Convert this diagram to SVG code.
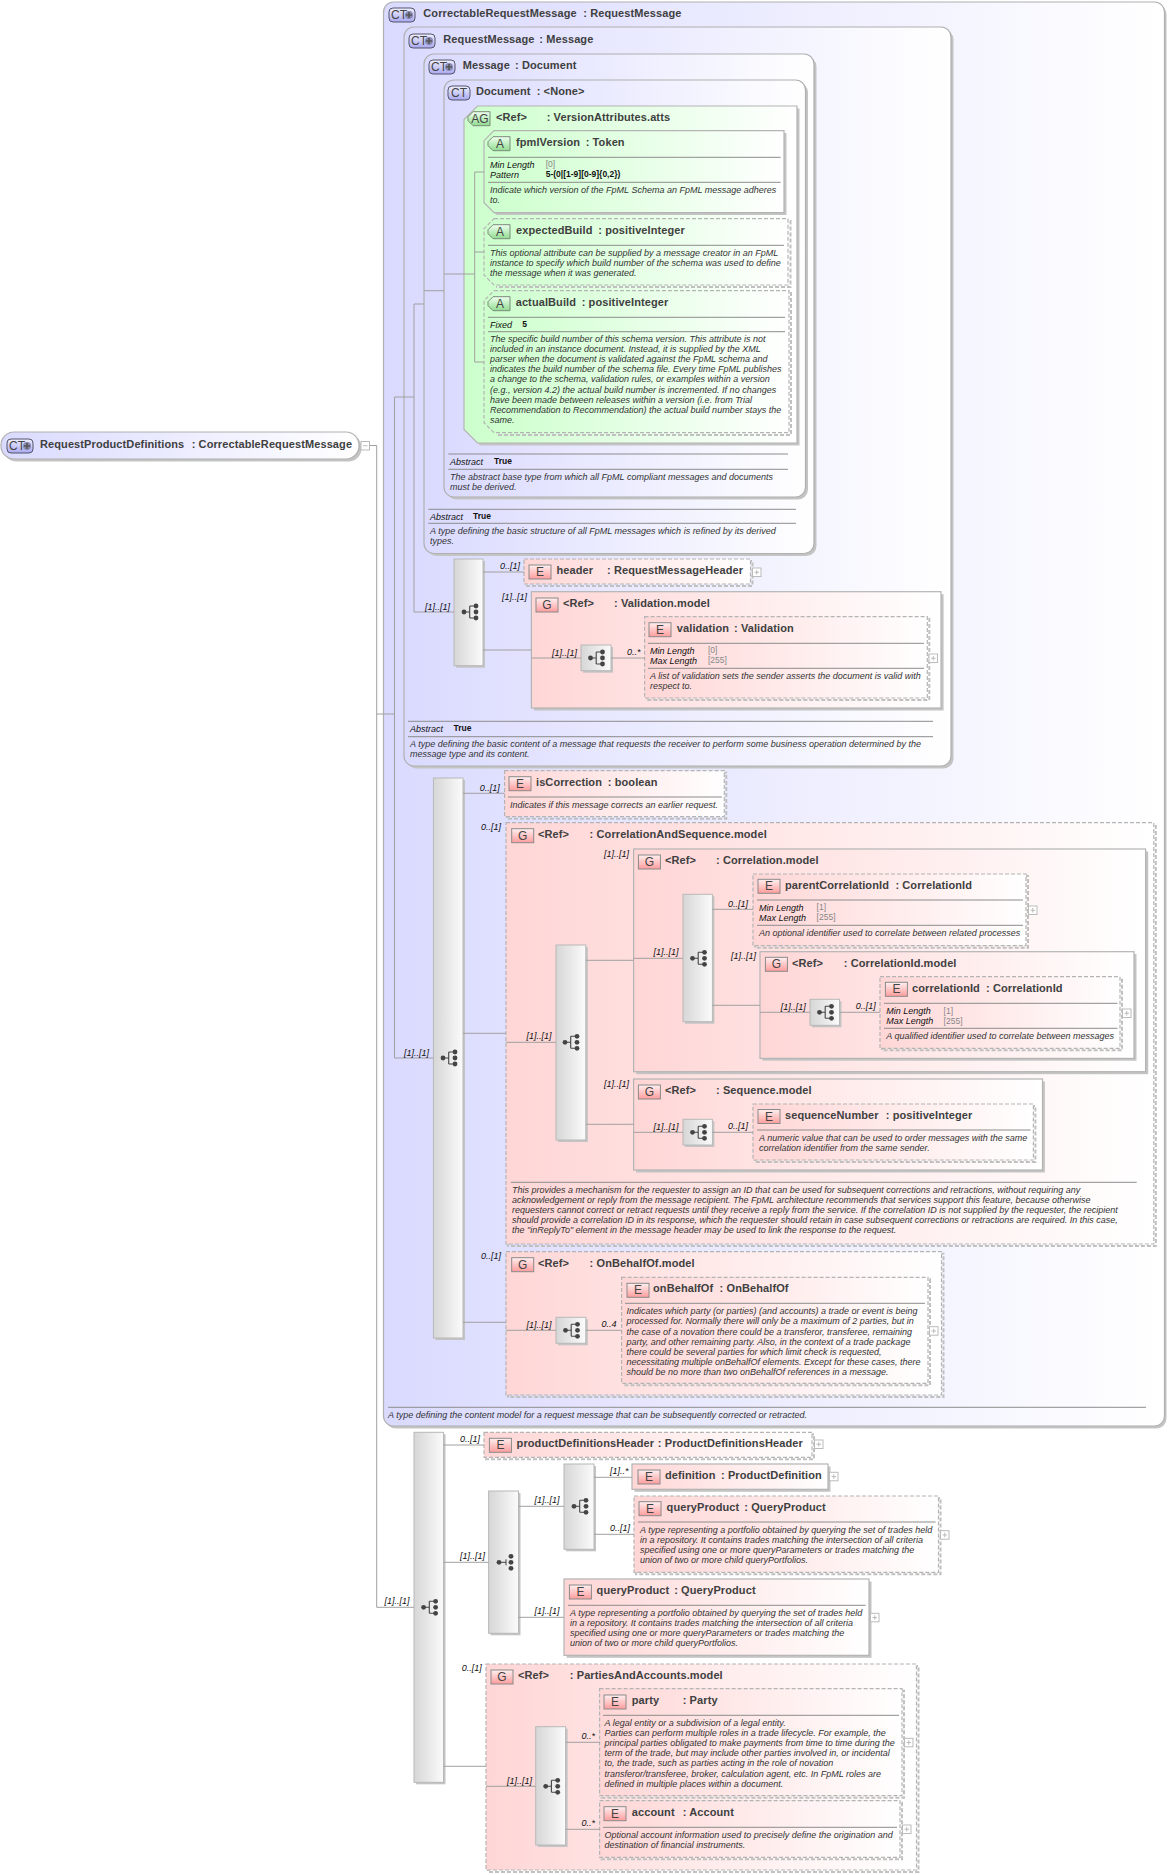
<svg xmlns="http://www.w3.org/2000/svg" width="1169" height="1875" viewBox="0 0 1169 1875">
<style>
text{font-family:"Liberation Sans",Arial,sans-serif}
.t{font-size:11px;font-weight:bold;fill:#404040;letter-spacing:.1px}
.d{font-size:9px;font-style:italic;fill:#333}
.k{font-size:9px;font-style:italic;fill:#111}
.v{font-size:8.5px;fill:#888}
.b{font-size:8.5px;font-weight:bold;fill:#111}
.m{font-size:9px;font-style:italic;fill:#111}
.i{font-size:12px;fill:#444;text-anchor:middle}
.ct{fill:url(#gb);stroke:#b0b0b0;stroke-width:1.2}
.el{fill:url(#gr);stroke:#b4b4b4;stroke-width:1.2}
.at{fill:url(#gg);stroke:#b4b4b4;stroke-width:1.2}
.da{stroke-dasharray:4 2}
.sh{fill:#c4c4c4;stroke:none}
.shd{fill:none;stroke:#c0c0c0;stroke-width:2;stroke-dasharray:4 2}
.cp{fill:url(#gc);stroke:#b8b8b8;stroke-width:1}
.s{stroke:#8c8c8c;stroke-width:1;fill:none}
.c{stroke:#a0a0a0;stroke-width:1;fill:none}
</style>
<defs>
<linearGradient id="gb"><stop offset="0" stop-color="#dadaff"/><stop offset="1" stop-color="#fff"/></linearGradient>
<linearGradient id="gr"><stop offset="0" stop-color="#ffd6d6"/><stop offset="1" stop-color="#fff"/></linearGradient>
<linearGradient id="gg"><stop offset="0" stop-color="#ccffcc"/><stop offset="1" stop-color="#fff"/></linearGradient>
<linearGradient id="gc"><stop offset="0" stop-color="#d6d6d6"/><stop offset="1" stop-color="#fbfbfb"/></linearGradient>
<linearGradient id="ir" x1="0" y1="0" x2="0" y2="1"><stop offset="0" stop-color="#fff0f0"/><stop offset="1" stop-color="#ff9c9c"/></linearGradient>
<linearGradient id="ib" x1="0" y1="0" x2="0" y2="1"><stop offset="0" stop-color="#f0f0ff"/><stop offset="1" stop-color="#a8a8f0"/></linearGradient>
<linearGradient id="ig" x1="0" y1="0" x2="0" y2="1"><stop offset="0" stop-color="#f0fff0"/><stop offset="1" stop-color="#8fdc8f"/></linearGradient>
<g id="ie"><rect width="22" height="14" fill="url(#ir)" stroke="#8a8a8a"/></g>
<g id="ict"><rect width="22" height="14" rx="4" fill="url(#ib)" stroke="#55556a"/></g>
<g id="ictp"><rect width="26" height="14" rx="4" fill="url(#ib)" stroke="#55556a"/><circle cx="20" cy="7" r="4" fill="#8a8ab4"/><path d="M17 7h6M20 4v6" stroke="#555" stroke-width="1.6"/></g>
<g id="ia"><path d="M5 0H22V14H5L0 9V5Z" fill="url(#ig)" stroke="#7a8a7a"/></g>
<g id="is"><path d="M0 0H5.7M5.7-6V6M5.7-6H12M5.7 6H12" fill="none" stroke="#444" stroke-width="1.1"/><circle r="2.4" fill="#444"/><circle cx="12" cy="-6" r="2.4" fill="#444"/><circle cx="12" cy="0" r="2.4" fill="#444"/><circle cx="12" cy="6" r="2.4" fill="#444"/></g>
<g id="ic"><path d="M0 0H7" fill="none" stroke="#444"/><circle r="2.4" fill="#444"/><circle cx="12" cy="-6" r="2.4" fill="#444"/><circle cx="12" cy="0" r="2.4" fill="#444"/><circle cx="12" cy="6" r="2.4" fill="#444"/><path d="M7-3V3" stroke="#444"/></g>
<g id="ip"><rect width="8.5" height="8.5" fill="#fff" stroke="#bbb"/><path d="M2 4.25H6.5M4.25 2V6.5" stroke="#bbb"/></g>
<g id="im"><rect width="8.5" height="8.5" fill="#fff" stroke="#bbb"/><path d="M2 4.25H6.5" stroke="#bbb"/></g>
</defs>
<rect width="1169" height="1875" fill="#fff"/>

<g id="n-root"><rect class="sh" x="3.5" y="434.5" width="358" height="27" rx="13"/><rect class="ct" x="1" y="432" width="358" height="27" rx="13"/><use href="#ictp" x="7" y="439"/><text class="i" x="17" y="450">CT</text><text class="t" y="448"><tspan x="40">RequestProductDefinitions</tspan><tspan x="191.7">: CorrectableRequestMessage</tspan></text><use href="#im" x="361" y="441.5"/></g>

<g id="n-ct1"><rect class="sh" x="385.5" y="4.5" width="781" height="1424" rx="10"/><rect class="ct" x="383.5" y="2" width="781" height="1424" rx="10"/><use href="#ictp" x="389" y="8"/><text class="i" x="399" y="19">CT</text><text class="t" y="17.3"><tspan x="423.3">CorrectableRequestMessage</tspan><tspan x="583.3">: RequestMessage</tspan></text>
<path class="s" d="M388 1407.3H1146"/><text class="d" x="388" y="1417.7">A type defining the content model for a request message that can be subsequently corrected or retracted.</text></g>

<g id="n-ct2"><rect class="sh" x="406.5" y="29.5" width="547" height="739" rx="10"/><rect class="ct" x="404" y="27" width="547" height="739" rx="10"/><use href="#ictp" x="409" y="34"/><text class="i" x="419" y="45">CT</text><text class="t" y="43.3"><tspan x="443.3">RequestMessage</tspan><tspan x="539.3">: Message</tspan></text>
<path class="s" d="M408 721.3H933M408 736.7H933"/><text class="k" x="410" y="731.7">Abstract</text><text class="b" x="453.6" y="731">True</text><text class="d" x="410" y="746.7">A type defining the basic content of a message that requests the receiver to perform some business operation determined by the</text><text class="d" x="410" y="756.7">message type and its content.</text></g>

<g id="n-ct3"><rect class="sh" x="426.5" y="56.5" width="390" height="499.5" rx="10"/><rect class="ct" x="424" y="54" width="390" height="499.5" rx="10"/><use href="#ictp" x="429" y="60"/><text class="i" x="439" y="71">CT</text><text class="t" y="69.3"><tspan x="462.7">Message</tspan><tspan x="515">: Document</tspan></text>
<path class="s" d="M428.3 509.3H796M428.3 523.3H796"/><text class="k" x="430" y="520">Abstract</text><text class="b" x="473" y="519">True</text><text class="d" x="430" y="534">A type defining the basic structure of all FpML messages which is refined by its derived</text><text class="d" x="430" y="544">types.</text></g>

<g id="n-ct4"><rect class="sh" x="446.5" y="82.5" width="361.5" height="417" rx="10"/><rect class="ct" x="444" y="80" width="361.5" height="417" rx="10"/><use href="#ict" x="448" y="86"/><text class="i" x="459" y="97">CT</text><text class="t" y="95.3"><tspan x="476">Document</tspan><tspan x="536.7">: &lt;None&gt;</tspan></text>
<path class="s" d="M448.3 454H788M448.3 469.3H788"/><text class="k" x="450" y="465">Abstract</text><text class="b" x="494" y="464">True</text><text class="d" x="450" y="480">The abstract base type from which all FpML compliant messages and documents</text><text class="d" x="450" y="490">must be derived.</text></g>

<g id="n-ag"><path class="sh" d="M480 108.5H799.5V445.5H480L466.5 432V122Z"/><path class="at" d="M477.5 106H797V443H477.5L464 429.5V119.5Z"/><use href="#ia" x="468" y="111.7"/><text class="i" x="480" y="122.7">AG</text><text class="t" y="121"><tspan x="496">&lt;Ref&gt;</tspan><tspan x="546.7">: VersionAttributes.atts</tspan></text></g>

<g id="n-fpmlVersion"><path class="sh" d="M496.5 133H786.5V215H496.5L486.5 205V143Z"/><path class="at" d="M494 130.7H784V212.7H494L484 202.7V140.7Z"/><use href="#ia" x="488" y="136.7"/><text class="i" x="500" y="147.7">A</text><text class="t" y="146"><tspan x="516">fpmlVersion</tspan><tspan x="585.7">: Token</tspan></text>
<path class="s" d="M488 157.3H780.6M488 182.3H780.6"/><text class="k" x="490" y="167.7">Min Length</text><text class="v" x="545.7" y="167">[0]</text><text class="k" x="490" y="177.7">Pattern</text><text class="b" x="545.7" y="177">5-(0|[1-9][0-9]{0,2})</text><text class="d" x="490" y="192.7">Indicate which version of the FpML Schema an FpML message adheres</text><text class="d" x="490" y="202.7">to.</text></g>

<g id="n-expectedBuild"><path class="shd" d="M496 221H790.5V287H496"/><path class="at da" d="M494 218.7H788V285H494L484 275V228.7Z"/><use href="#ia" x="488" y="224.7"/><text class="i" x="500" y="235.7">A</text><text class="t" y="234"><tspan x="516">expectedBuild</tspan><tspan x="598.3">: positiveInteger</tspan></text>
<path class="s" d="M488 245.3H784"/><text class="d" x="490" y="256">This optional attribute can be supplied by a message creator in an FpML</text><text class="d" x="490" y="266">instance to specify which build number of the schema was used to define</text><text class="d" x="490" y="276">the message when it was generated.</text></g>

<g id="n-actualBuild"><path class="shd" d="M496 293H791V435H496"/><path class="at da" d="M494 290.7H789V432.7H494L484 422.7V300.7Z"/><use href="#ia" x="488" y="296.7"/><text class="i" x="500" y="307.7">A</text><text class="t" y="306"><tspan x="515.7">actualBuild</tspan><tspan x="581.7">: positiveInteger</tspan></text>
<path class="s" d="M488 317.3H785M488 331.7H785"/><text class="k" x="490" y="328.3">Fixed</text><text class="b" x="522.3" y="327">5</text>
<text class="d" x="490" y="342">The specific build number of this schema version. This attribute is not</text><text class="d" x="490" y="352">included in an instance document. Instead, it is supplied by the XML</text><text class="d" x="490" y="362.2">parser when the document is validated against the FpML schema and</text><text class="d" x="490" y="372.3">indicates the build number of the schema file. Every time FpML publishes</text><text class="d" x="490" y="382.4">a change to the schema, validation rules, or examples within a version</text><text class="d" x="490" y="392.5">(e.g., version 4.2) the actual build number is incremented. If no changes</text><text class="d" x="490" y="402.6">have been made between releases within a version (i.e. from Trial</text><text class="d" x="490" y="412.7">Recommendation to Recommendation) the actual build number stays the</text><text class="d" x="490" y="423">same.</text></g>

<g id="n-seq1"><rect class="sh" x="456" y="561" width="29" height="106.7"/><rect class="cp" x="454" y="559" width="29" height="106.7"/><use href="#is" x="464" y="612"/></g>

<g id="n-header"><rect class="shd" x="526" y="561" width="226.5" height="25"/><rect class="el da" x="524" y="559" width="226.5" height="25"/><use href="#ie" x="529" y="565"/><text class="i" x="540" y="576">E</text><text class="t" y="574.3"><tspan x="556.4">header</tspan><tspan x="607">: RequestMessageHeader</tspan></text><use href="#ip" x="752.5" y="568"/></g>

<g id="n-validation-model"><rect class="sh" x="534" y="594.2" width="409.6" height="116.3"/><rect class="el" x="531.4" y="591.7" width="409.6" height="116.3"/><use href="#ie" x="536" y="598"/><text class="i" x="547" y="609">G</text><text class="t" y="607"><tspan x="563">&lt;Ref&gt;</tspan><tspan x="614">: Validation.model</tspan></text></g>
<g id="n-cmp-val"><rect class="sh" x="583" y="647" width="30" height="25.7"/><rect class="cp" x="581" y="645" width="30" height="25.7"/><use href="#is" x="590.5" y="658"/></g>
<g id="n-validation"><rect class="shd" x="646.6" y="618.7" width="282.7" height="81.3"/><rect class="el da" x="644.6" y="616.7" width="282.7" height="81.3"/><use href="#ie" x="649" y="622.7"/><text class="i" x="660" y="633.7">E</text><text class="t" y="632"><tspan x="676.8">validation</tspan><tspan x="734">: Validation</tspan></text>
<path class="s" d="M648 643.3H924M648 668.3H924"/><text class="k" x="650" y="653.7">Min Length</text><text class="v" x="708" y="653">[0]</text><text class="k" x="650" y="663.7">Max Length</text><text class="v" x="708" y="663">[255]</text><text class="d" x="650" y="678.7">A list of validation sets the sender asserts the document is valid with</text><text class="d" x="650" y="688.7">respect to.</text><use href="#ip" x="929" y="654"/></g>

<g id="n-seq2"><rect class="sh" x="435.4" y="780" width="29.6" height="560"/><rect class="cp" x="433.4" y="778" width="29.6" height="560"/><use href="#is" x="443" y="1058"/></g>

<g id="n-isCorrection"><rect class="shd" x="506.6" y="772.7" width="219.7" height="46"/><rect class="el da" x="504.6" y="770.7" width="219.7" height="46"/><use href="#ie" x="509" y="776.7"/><text class="i" x="520" y="787.7">E</text><text class="t" y="786"><tspan x="536">isCorrection</tspan><tspan x="607.8">: boolean</tspan></text>
<path class="s" d="M508 797H722"/><text class="d" x="510" y="807.7">Indicates if this message corrects an earlier request.</text></g>

<g id="n-corrseq"><rect class="shd" x="508" y="824.7" width="647.8" height="421.3"/><rect class="el da" x="506" y="822.7" width="647.8" height="421.3"/><use href="#ie" x="511.7" y="828.7"/><text class="i" x="522.7" y="839.7">G</text><text class="t" y="837.7"><tspan x="538">&lt;Ref&gt;</tspan><tspan x="589.6">: CorrelationAndSequence.model</tspan></text>
<path class="s" d="M510.8 1182.3H1136.7"/><text class="d" x="512" y="1192.7">This provides a mechanism for the requester to assign an ID that can be used for subsequent corrections and retractions, without requiring any</text><text class="d" x="512" y="1202.8">acknowledgement or reply from the message recipient. The FpML architecture recommends that services support this feature, because otherwise</text><text class="d" x="512" y="1212.8">requesters cannot correct or retract requests until they receive a reply from the service. If the correlation ID is not supplied by the requester, the recipient</text><text class="d" x="512" y="1223">should provide a correlation ID in its response, which the requester should retain in case subsequent corrections or retractions are required. In this case,</text><text class="d" x="512" y="1233">the "inReplyTo" element in the message header may be used to link the response to the request.</text></g>

<g id="n-seq3"><rect class="sh" x="558" y="947" width="29.8" height="195"/><rect class="cp" x="556" y="945" width="29.8" height="195"/><use href="#is" x="565" y="1042.3"/></g>

<g id="n-correlation-model"><rect class="sh" x="636.2" y="851.5" width="512" height="222.7"/><rect class="el" x="633.6" y="849" width="512" height="222.7"/><use href="#ie" x="638.4" y="855"/><text class="i" x="649.4" y="866">G</text><text class="t" y="864"><tspan x="665">&lt;Ref&gt;</tspan><tspan x="716">: Correlation.model</tspan></text></g>
<g id="n-seq4"><rect class="sh" x="685" y="896.3" width="29.4" height="127.4"/><rect class="cp" x="683" y="894.3" width="29.4" height="127.4"/><use href="#is" x="692.5" y="958.3"/></g>
<g id="n-parentCorrelationId"><rect class="shd" x="755" y="876" width="273" height="71.7"/><rect class="el da" x="753" y="874" width="273" height="71.7"/><use href="#ie" x="758" y="879.3"/><text class="i" x="769" y="890.3">E</text><text class="t" y="888.7"><tspan x="785">parentCorrelationId</tspan><tspan x="895.4">: CorrelationId</tspan></text>
<path class="s" d="M757 900H1023M757 925.3H1023"/><text class="k" x="759" y="910.7">Min Length</text><text class="v" x="816.6" y="910">[1]</text><text class="k" x="759" y="920.7">Max Length</text><text class="v" x="816.6" y="920">[255]</text><text class="d" x="759" y="935.7">An optional identifier used to correlate between related processes</text><use href="#ip" x="1028.5" y="906"/></g>
<g id="n-correlationId-model"><rect class="sh" x="762.5" y="954" width="374" height="106.7"/><rect class="el" x="760" y="951.7" width="374" height="106.7"/><use href="#ie" x="765.4" y="957.3"/><text class="i" x="776.4" y="968.3">G</text><text class="t" y="966.7"><tspan x="792">&lt;Ref&gt;</tspan><tspan x="843.8">: CorrelationId.model</tspan></text></g>
<g id="n-cmp-corrid"><rect class="sh" x="812" y="1001.3" width="29.5" height="26"/><rect class="cp" x="810" y="999.3" width="29.5" height="26"/><use href="#is" x="819.5" y="1012.3"/></g>
<g id="n-correlationId"><rect class="shd" x="882" y="978.7" width="240" height="71.6"/><rect class="el da" x="880" y="976.7" width="240" height="71.6"/><use href="#ie" x="885.4" y="982.3"/><text class="i" x="896.4" y="993.3">E</text><text class="t" y="991.7"><tspan x="912">correlationId</tspan><tspan x="986">: CorrelationId</tspan></text>
<path class="s" d="M884 1003.3H1117.5M884 1028.3H1117.5"/><text class="k" x="886.3" y="1014">Min Length</text><text class="v" x="943.6" y="1013.5">[1]</text><text class="k" x="886.3" y="1024">Max Length</text><text class="v" x="943.6" y="1023.5">[255]</text><text class="d" x="886.3" y="1039">A qualified identifier used to correlate between messages</text><use href="#ip" x="1122.5" y="1009"/></g>

<g id="n-sequence-model"><rect class="sh" x="636" y="1081.5" width="408.9" height="91"/><rect class="el" x="633.6" y="1079" width="408.9" height="91"/><use href="#ie" x="638.4" y="1085"/><text class="i" x="649.4" y="1096">G</text><text class="t" y="1094"><tspan x="665">&lt;Ref&gt;</tspan><tspan x="716">: Sequence.model</tspan></text></g>
<g id="n-cmp-seq"><rect class="sh" x="685" y="1121.3" width="29.4" height="25.7"/><rect class="cp" x="683" y="1119.3" width="29.4" height="25.7"/><use href="#is" x="692.5" y="1132.3"/></g>
<g id="n-sequenceNumber"><rect class="shd" x="755" y="1106" width="280.4" height="56"/><rect class="el da" x="753" y="1104" width="280.4" height="56"/><use href="#ie" x="758" y="1109.5"/><text class="i" x="769" y="1120.5">E</text><text class="t" y="1119.3"><tspan x="785">sequenceNumber</tspan><tspan x="885.8">: positiveInteger</tspan></text>
<path class="s" d="M757 1130H1030.6"/><text class="d" x="759" y="1140.7">A numeric value that can be used to order messages with the same</text><text class="d" x="759" y="1150.7">correlation identifier from the same sender.</text></g>

<g id="n-onbehalf-model"><rect class="shd" x="508" y="1253.7" width="435.5" height="143.3"/><rect class="el da" x="506" y="1251.7" width="435.5" height="143.3"/><use href="#ie" x="511.7" y="1257.7"/><text class="i" x="522.7" y="1268.7">G</text><text class="t" y="1266.7"><tspan x="538">&lt;Ref&gt;</tspan><tspan x="589.6">: OnBehalfOf.model</tspan></text></g>
<g id="n-cmp-obo"><rect class="sh" x="558" y="1319.3" width="29.8" height="26"/><rect class="cp" x="556" y="1317.3" width="29.8" height="26"/><use href="#is" x="565.5" y="1330.3"/></g>
<g id="n-onBehalfOf"><rect class="shd" x="623.6" y="1279.3" width="306.4" height="106"/><rect class="el da" x="621.6" y="1277.3" width="306.4" height="106"/><use href="#ie" x="627" y="1283.3"/><text class="i" x="638" y="1294.3">E</text><text class="t" y="1292.3"><tspan x="653">onBehalfOf</tspan><tspan x="719.6">: OnBehalfOf</tspan></text>
<path class="s" d="M625 1303.3H925"/><text class="d" x="626.4" y="1314.3">Indicates which party (or parties) (and accounts) a trade or event is being</text><text class="d" x="626.4" y="1324.4">processed for. Normally there will only be a maximum of 2 parties, but in</text><text class="d" x="626.4" y="1334.5">the case of a novation there could be a transferor, transferee, remaining</text><text class="d" x="626.4" y="1344.6">party, and other remaining party. Also, in the context of a trade package</text><text class="d" x="626.4" y="1354.6">there could be several parties for which limit check is requested,</text><text class="d" x="626.4" y="1364.7">necessitating multiple onBehalfOf elements. Except for these cases, there</text><text class="d" x="626.4" y="1374.8">should be no more than two onBehalfOf references in a message.</text><use href="#ip" x="929.5" y="1326.7"/></g>

<g id="n-seq5"><rect class="sh" x="416" y="1434.3" width="29.5" height="350"/><rect class="cp" x="414" y="1432.3" width="29.5" height="350"/><use href="#is" x="423.6" y="1607.3"/></g>
<g id="n-productDefinitionsHeader"><rect class="shd" x="486" y="1434.3" width="328" height="25"/><rect class="el da" x="484" y="1432.3" width="328" height="25"/><use href="#ie" x="489.4" y="1438.3"/><text class="i" x="500.4" y="1449.3">E</text><text class="t" y="1447.3"><tspan x="516.6">productDefinitionsHeader</tspan><tspan x="657.8">: ProductDefinitionsHeader</tspan></text><use href="#ip" x="814.5" y="1440"/></g>
<g id="n-choice"><rect class="sh" x="490.6" y="1493" width="29.9" height="142.3"/><rect class="cp" x="488.6" y="1491" width="29.9" height="142.3"/><use href="#ic" x="499" y="1562.3"/></g>
<g id="n-seq7"><rect class="sh" x="566" y="1466" width="30" height="85.3"/><rect class="cp" x="564" y="1464" width="30" height="85.3"/><use href="#is" x="574" y="1506.3"/></g>
<g id="n-definition"><rect class="sh" x="634.5" y="1466.5" width="196" height="25.3"/><rect class="el" x="632" y="1464" width="196" height="25.3"/><use href="#ie" x="638" y="1470"/><text class="i" x="649" y="1481">E</text><text class="t" y="1479"><tspan x="665">definition</tspan><tspan x="721">: ProductDefinition</tspan></text><use href="#ip" x="829.5" y="1472.3"/></g>
<g id="n-queryProduct1"><rect class="shd" x="636" y="1498" width="304.5" height="76.3"/><rect class="el da" x="634" y="1496" width="304.5" height="76.3"/><use href="#ie" x="639" y="1501.7"/><text class="i" x="650" y="1512.7">E</text><text class="t" y="1511"><tspan x="666.6">queryProduct</tspan><tspan x="744.3">: QueryProduct</tspan></text>
<path class="s" d="M638 1522H935.6"/><text class="d" x="640" y="1532.7">A type representing a portfolio obtained by querying the set of trades held</text><text class="d" x="640" y="1542.8">in a repository. It contains trades matching the intersection of all criteria</text><text class="d" x="640" y="1553">specified using one or more queryParameters or trades matching the</text><text class="d" x="640" y="1563">union of two or more child queryPortfolios.</text><use href="#ip" x="940.5" y="1530.7"/></g>
<g id="n-queryProduct2"><rect class="sh" x="566.5" y="1581.5" width="305" height="76.3"/><rect class="el" x="564" y="1579" width="305" height="76.3"/><use href="#ie" x="569.4" y="1585"/><text class="i" x="580.4" y="1596">E</text><text class="t" y="1594"><tspan x="596.6">queryProduct</tspan><tspan x="674.2">: QueryProduct</tspan></text>
<path class="s" d="M568 1605.3H865.6"/><text class="d" x="570" y="1616">A type representing a portfolio obtained by querying the set of trades held</text><text class="d" x="570" y="1626">in a repository. It contains trades matching the intersection of all criteria</text><text class="d" x="570" y="1636">specified using one or more queryParameters or trades matching the</text><text class="d" x="570" y="1646.3">union of two or more child queryPortfolios.</text><use href="#ip" x="870.5" y="1613.3"/></g>

<g id="n-parties-model"><rect class="shd" x="488" y="1666" width="430.5" height="206"/><rect class="el da" x="486" y="1664" width="430.5" height="206"/><use href="#ie" x="491" y="1670"/><text class="i" x="502" y="1681">G</text><text class="t" y="1679"><tspan x="518">&lt;Ref&gt;</tspan><tspan x="569.8">: PartiesAndAccounts.model</tspan></text></g>
<g id="n-seq8"><rect class="sh" x="537.7" y="1728.7" width="29.9" height="118.3"/><rect class="cp" x="535.7" y="1726.7" width="29.9" height="118.3"/><use href="#is" x="545.7" y="1786.3"/></g>
<g id="n-party"><rect class="shd" x="601.6" y="1690.7" width="302.4" height="107"/><rect class="el da" x="599.6" y="1688.7" width="302.4" height="107"/><use href="#ie" x="604" y="1695"/><text class="i" x="615" y="1706">E</text><text class="t" y="1704"><tspan x="631.8">party</tspan><tspan x="682.7">: Party</tspan></text>
<path class="s" d="M603 1715.3H899"/><text class="d" x="604.6" y="1725.7">A legal entity or a subdivision of a legal entity.</text><text class="d" x="604.6" y="1735.8">Parties can perform multiple roles in a trade lifecycle. For example, the</text><text class="d" x="604.6" y="1746">principal parties obligated to make payments from time to time during the</text><text class="d" x="604.6" y="1756.2">term of the trade, but may include other parties involved in, or incidental</text><text class="d" x="604.6" y="1766.3">to, the trade, such as parties acting in the role of novation</text><text class="d" x="604.6" y="1776.5">transferor/transferee, broker, calculation agent, etc. In FpML roles are</text><text class="d" x="604.6" y="1786.7">defined in multiple places within a document.</text><use href="#ip" x="904.5" y="1738.3"/></g>
<g id="n-account"><rect class="shd" x="601.6" y="1802.7" width="300.4" height="56.6"/><rect class="el da" x="599.6" y="1800.7" width="300.4" height="56.6"/><use href="#ie" x="604" y="1806.7"/><text class="i" x="615" y="1817.7">E</text><text class="t" y="1816"><tspan x="631.8">account</tspan><tspan x="682.7">: Account</tspan></text>
<path class="s" d="M603 1827.3H897"/><text class="d" x="604.6" y="1837.7">Optional account information used to precisely define the origination and</text><text class="d" x="604.6" y="1847.7">destination of financial instruments.</text><use href="#ip" x="902.5" y="1825"/></g>

<g id="connectors">
<path class="c" d="M369.5 445.5H376.7V1607.3H414M376.7 714H394.5M394.5 1058V397H414M394.5 1058H433.4M414 304H424M414 304V612H454M424 290.7H444M444 274H474.7M474.7 172V362M474.7 172H484M474.7 252H484M474.7 362H484"/>
<path class="c" d="M483 572H524M483 650H531.4M531.4 658H581M611 658H644.6"/>
<path class="c" d="M463 793.3H504.6M463 1033.3H506M506 1042.3H556M585.8 960.3H633.6M585.8 1124.3H633.6M633.6 958.3H683M712.4 909.3H753M712.4 1005.3H760M760 1012.3H810M839.5 1012.3H880M633.6 1132.3H683M712.4 1132.3H753M463 1322.3H506M506 1330.3H556M585.8 1330.3H621.6"/>
<path class="c" d="M443.5 1445H484M443.5 1562.3H488.6M518.5 1506.3H564M594 1477.3H632M594 1534.3H634M518.5 1617.3H564M443.5 1766.3H486M486 1786.3H535.7M565.6 1742.3H599.6M565.6 1829.3H599.6"/>
<text class="m" x="425" y="610">[1]..[1]</text>
<text class="m" x="500" y="569">0..[1]</text>
<text class="m" x="502" y="600">[1]..[1]</text>
<text class="m" x="552" y="655.7">[1]..[1]</text>
<text class="m" x="627" y="655">0..*</text>
<text class="m" x="404" y="1055.7">[1]..[1]</text>
<text class="m" x="479.7" y="791">0..[1]</text>
<text class="m" x="481" y="830">0..[1]</text>
<text class="m" x="526.5" y="1039">[1]..[1]</text>
<text class="m" x="604" y="856.7">[1]..[1]</text>
<text class="m" x="653.6" y="955">[1]..[1]</text>
<text class="m" x="728" y="906.7">0..[1]</text>
<text class="m" x="731" y="959">[1]..[1]</text>
<text class="m" x="780.7" y="1010">[1]..[1]</text>
<text class="m" x="855.7" y="1009.3">0..[1]</text>
<text class="m" x="604" y="1086.7">[1]..[1]</text>
<text class="m" x="653.6" y="1130">[1]..[1]</text>
<text class="m" x="728" y="1129.3">0..[1]</text>
<text class="m" x="481" y="1259.3">0..[1]</text>
<text class="m" x="526.5" y="1327.7">[1]..[1]</text>
<text class="m" x="601.6" y="1327.3">0..4</text>
<text class="m" x="384.5" y="1604.3">[1]..[1]</text>
<text class="m" x="460" y="1441.7">0..[1]</text>
<text class="m" x="460" y="1559.3">[1]..[1]</text>
<text class="m" x="534.6" y="1503.3">[1]..[1]</text>
<text class="m" x="610" y="1474">[1]..*</text>
<text class="m" x="610" y="1531">0..[1]</text>
<text class="m" x="534.6" y="1614.3">[1]..[1]</text>
<text class="m" x="461.8" y="1670.7">0..[1]</text>
<text class="m" x="507" y="1783.7">[1]..[1]</text>
<text class="m" x="581.6" y="1739">0..*</text>
<text class="m" x="581.6" y="1825.7">0..*</text>
</g>
</svg>
